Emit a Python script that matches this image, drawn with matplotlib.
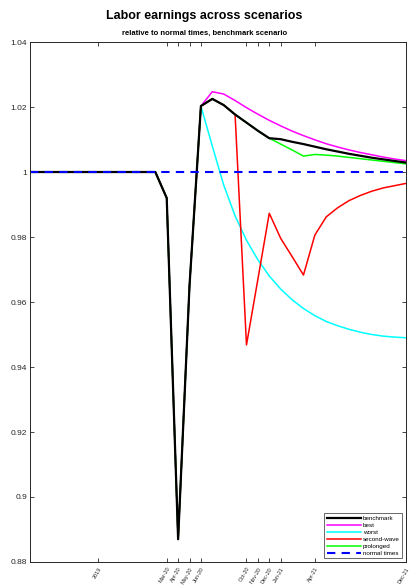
import matplotlib
matplotlib.use("Agg")
import matplotlib.pyplot as plt

plt.rcParams['font.family'] = ['Liberation Sans', 'DejaVu Sans']

# months relative to Mar-20 (0 = Mar-20, 21 = Dec-21); pre-crisis from -12
months = list(range(-12, 22))

pre_crisis = [1.0, 1.0, 1.0, 1.0, 1.0, 1.0, 1.0, 1.0, 1.0, 1.0, 1.0, 1.0]

# Mar-20 .. Dec-21
benchmark = [0.992, 0.887, 0.965, 1.0203, 1.0225, 1.0206, 1.0177, 1.0152, 1.0127, 1.0104,
             1.0101, 1.0093, 1.0086, 1.0078, 1.0070, 1.0063, 1.0056, 1.0050, 1.0044, 1.0039,
             1.0034, 1.0029]
best = [0.992, 0.887, 0.965, 1.0203, 1.0247, 1.0240, 1.0220, 1.0198, 1.0178, 1.0159,
        1.0142, 1.0126, 1.0112, 1.0099, 1.0087, 1.0077, 1.0068, 1.0060, 1.0053, 1.0046,
        1.0040, 1.0035]
worst = [0.992, 0.887, 0.965, 1.0203, 1.008, 0.996, 0.9865, 0.979, 0.973, 0.968,
         0.964, 0.9607, 0.958, 0.9558, 0.954, 0.9527, 0.9516, 0.9507, 0.950, 0.9495,
         0.9492, 0.949]
second_wave = [0.992, 0.887, 0.965, 1.0203, 1.0225, 1.0206, 1.0177, 0.9468, 0.967, 0.9873,
               0.9796, 0.974, 0.9683, 0.9806, 0.9862, 0.989, 0.9912, 0.9928, 0.9941, 0.9951,
               0.9958, 0.9965]
prolonged = [0.992, 0.887, 0.965, 1.0203, 1.0225, 1.0206, 1.0177, 1.0152, 1.0127, 1.0104,
             1.0086, 1.0068, 1.0049, 1.0054, 1.0052, 1.0049, 1.0045, 1.0041, 1.0037, 1.0033,
             1.0029, 1.0025]
normal_times = pre_crisis + [1.0] * 22

tick_pos = [-6, 0, 1, 2, 3, 7, 8, 9, 10, 13, 21]
tick_labels = ['2019', 'Mar-20', 'Apr-20', 'May-20', 'Jun-20', 'Oct-20', 'Nov-20',
               'Dec-20', 'Jan-21', 'Apr-21', 'Dec-21']
y_ticks = [0.88, 0.90, 0.92, 0.94, 0.96, 0.98, 1.00, 1.02, 1.04]
y_labels = ['0.88', '0.9', '0.92', '0.94', '0.96', '0.98', '1', '1.02', '1.04']

fig = plt.figure(figsize=(4.09, 5.87), dpi=100)
ax = fig.add_axes([0.0733, 0.0426, 0.9194, 0.8858])

h_best, = ax.plot(months, pre_crisis + best, color='#ff00ff', lw=1.1)
h_worst, = ax.plot(months, pre_crisis + worst, color='#00ffff', lw=1.1)
h_sw, = ax.plot(months, pre_crisis + second_wave, color='#ff0000', lw=1.1)
h_prol, = ax.plot(months, pre_crisis + prolonged, color='#00ff00', lw=1.1)
h_bench, = ax.plot(months, pre_crisis + benchmark, color='black', lw=1.6)
h_norm, = ax.plot(months, normal_times, color='#0000ff', lw=1.5, ls=(0, (4, 3)))

ax.set_xlim(-12, 21)
ax.set_ylim(0.88, 1.04)
ax.set_xticks(tick_pos)
ax.set_xticklabels(tick_labels, rotation=60, ha='right', va='top', fontsize=4,
                   rotation_mode='anchor')
ax.set_yticks(y_ticks)
ax.set_yticklabels(y_labels, fontsize=6)
ax.tick_params(direction='in', length=3, width=0.6, top=True, right=True,
               colors='#262626', pad=2)
ax.tick_params(axis='x', pad=3)
for s in ax.spines.values():
    s.set_color('#262626')
    s.set_linewidth(0.7)

fig.text(0.5, 0.972, 'Labor earnings across scenarios', ha='center', va='center',
         fontsize=9, fontweight='bold')
fig.text(0.5, 0.944, 'relative to normal times, benchmark scenario', ha='center',
         va='center', fontsize=5.5, fontweight='bold')

leg = ax.legend([h_bench, h_best, h_worst, h_sw, h_prol, h_norm],
                ['benchmark', 'best', 'worst', 'second-wave', 'prolonged', 'normal times'],
                loc='lower right', fontsize=4.5, frameon=True, fancybox=False,
                edgecolor='#262626', borderpad=0.4, labelspacing=0.25,
                handlelength=5.5, handletextpad=0.3, borderaxespad=0.6)
leg.get_frame().set_linewidth(0.6)

fig.savefig('out.png', dpi=100)
